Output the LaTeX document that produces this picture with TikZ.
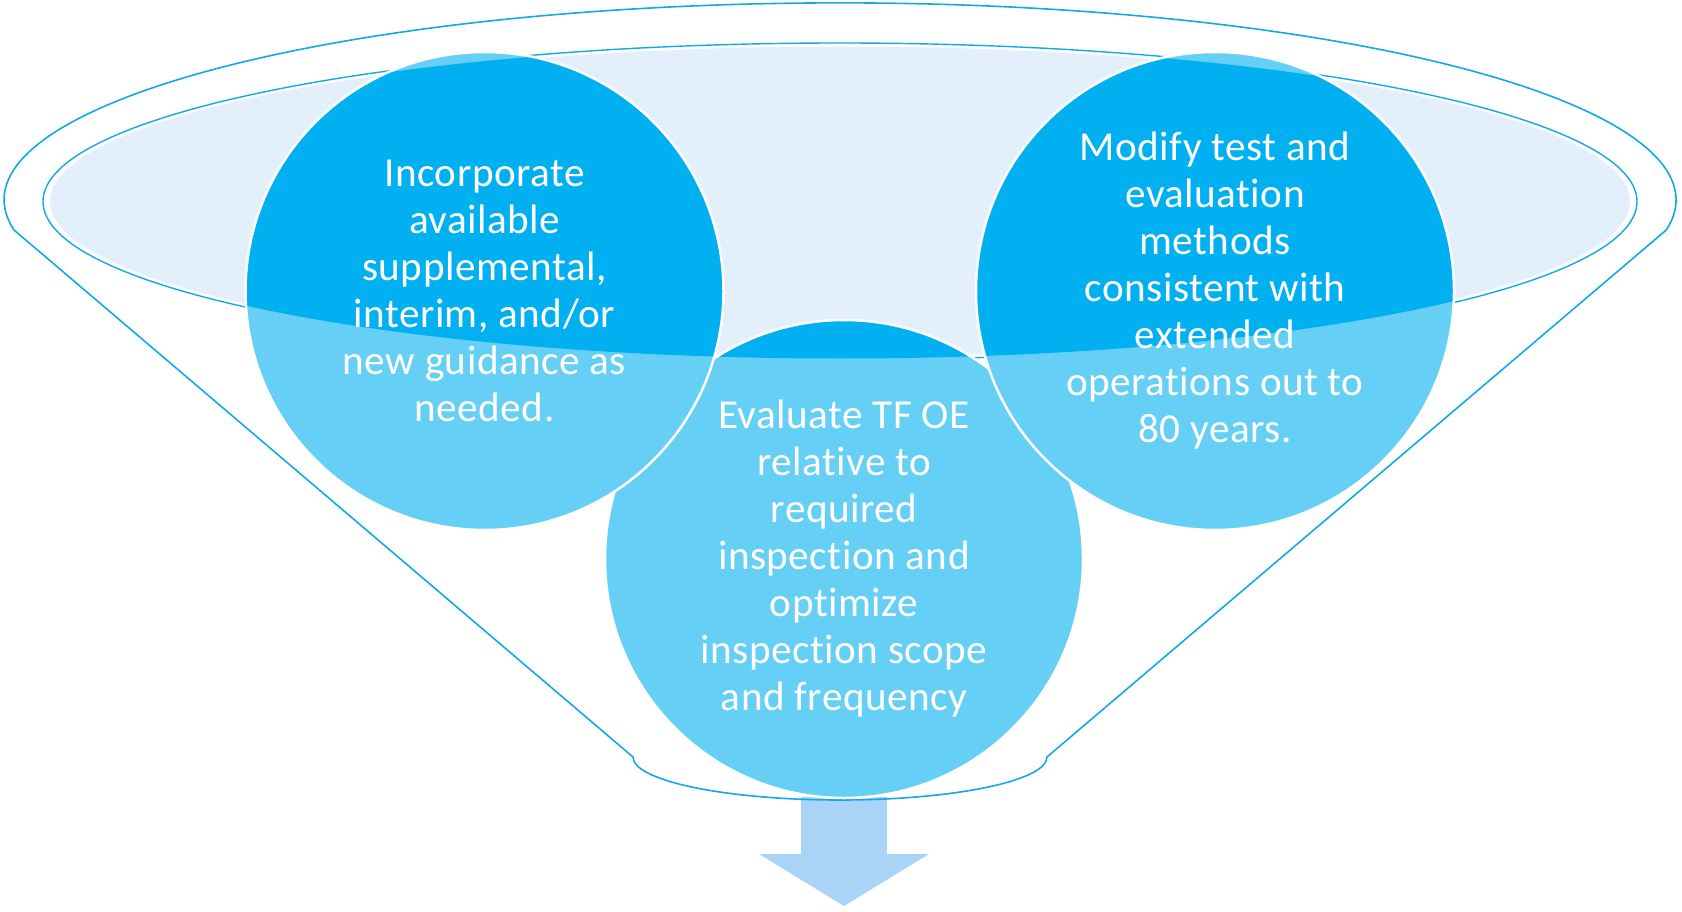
\documentclass[tikz,border=0pt]{standalone}
\usepackage{fontspec}
\setmainfont{Carlito}[Ligatures=NoCommon, LetterSpace=1.2]
\definecolor{darkc}{HTML}{00B0F0}
\definecolor{litec}{HTML}{66CFF5}
\definecolor{palec}{HTML}{E3F0FB}
\definecolor{edgec}{HTML}{12A9E6}
\definecolor{arrc}{HTML}{AAD4F6}
\tikzset{
  txt/.style={text=white, align=center, font=\fontsize{41.2}{47}\selectfont, inner sep=0pt},
  outline/.style={edgec, line width=1.6pt},
  rim/.style={white, line width=2.5pt}
}
\newcommand{\inellipse}{(840,201.5) ellipse [x radius=794, y radius=157]}
\newcommand{\bubble}[1]{%
  \fill[litec] (#1) circle (239);
  \begin{scope}\clip \inellipse; \fill[darkc] (#1) circle (239);\end{scope}
  \draw[rim] (#1) circle (239);}
\begin{document}
\begin{tikzpicture}[x=1pt,y=-1pt]
\useasboundingbox (0,0) rectangle (1682,912);
% arrow
\fill[arrc] (801,797) -- (887,797) -- (887,854) -- (929,854) -- (844,906) -- (759,854) -- (801,854) -- cycle;
% funnel outline
\draw[outline] (14,230) arc[start angle=171.2,end angle=368.8,x radius=836,y radius=197]
  -- (1047,757) arc[start angle=0,end angle=180,x radius=207,y radius=43] -- cycle;
% inner ellipse
\draw[edgec, line width=1.4pt, fill=white] (840,201.5) ellipse [x radius=797, y radius=158.5];
\fill[palec] (840,201.5) ellipse [x radius=790, y radius=155];
% circles
\coordinate (cm) at (844,559);
\coordinate (cl) at (484.5,291);
\coordinate (cr) at (1215,291);
\bubble{cm}
\bubble{cl}
\bubble{cr}
% texts
\node[txt] (tl) at (cl) {Incorporate\\available\\supplemental,\\interim, and/or\\new guidance as\\needed.};
\node[txt] (tr) at (cr) {Modify test and\\evaluation\\methods\\consistent with\\extended\\operations out to\\80 years.};
\node[txt] (tm) at (cm) {Evaluate TF OE\\relative to\\required\\inspection and\\optimize\\inspection scope\\and frequency};
\end{tikzpicture}
\end{document}
